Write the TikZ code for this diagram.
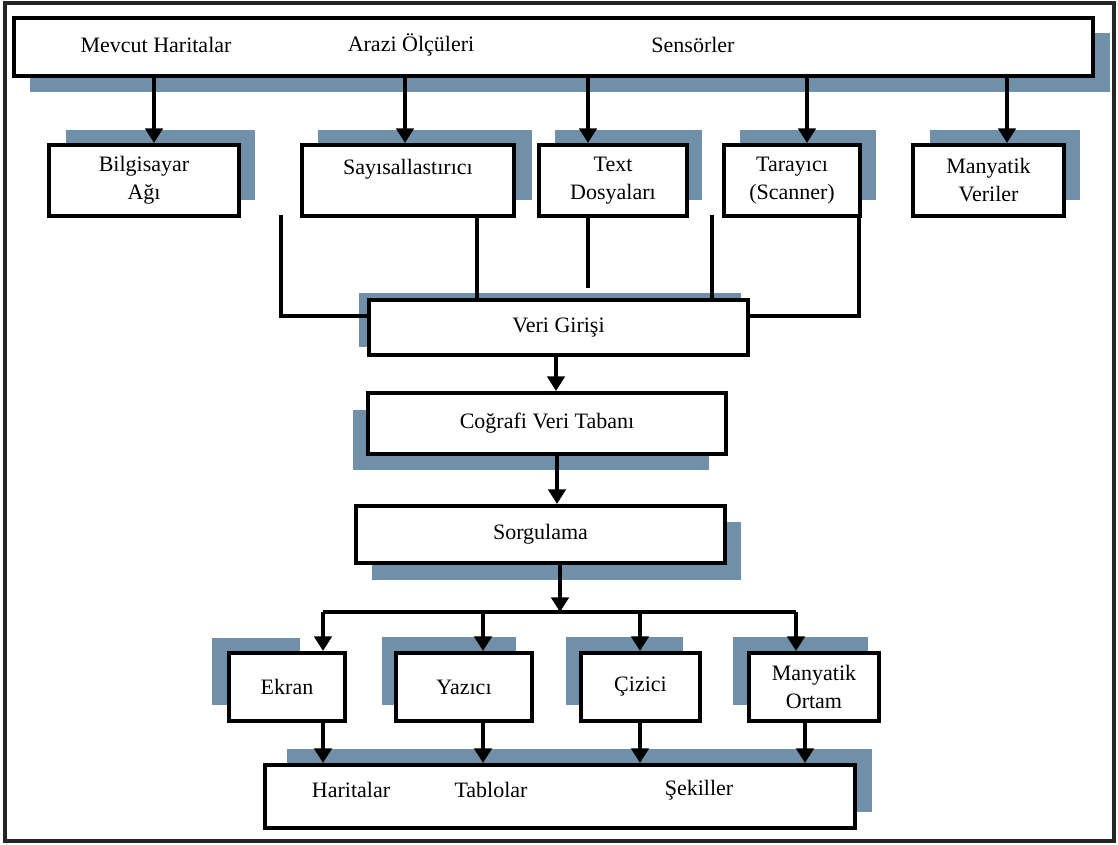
\documentclass[tikz,border=0pt]{standalone}
\usepackage{fontspec}
\setmainfont{Liberation Serif}
\usepackage{xcolor}
\usetikzlibrary{arrows.meta}

\definecolor{golgerengi}{RGB}{112,143,168}

\tikzset{
  kutu/.style={draw=black, line width=3pt, fill=white, inner sep=0pt, align=center, font=\fontsize{16.5}{21}\selectfont},
  yazi/.style={inner sep=0pt, font=\fontsize{16.5}{21}\selectfont},
  golge/.style={fill=golgerengi},
  ok/.style={line width=2.8pt, -{Triangle[width=13pt,length=11pt]}},
  hat/.style={line width=2.6pt}
}

\begin{document}
\begin{tikzpicture}[x=0.75pt,y=0.75pt,yscale=-1,xscale=1]
\useasboundingbox (0,0) rectangle (1118,845);
\draw[line width=2.8pt, black!85] (5,3) rectangle (1114,841);

% golgeler
\fill[golge] (30,33) rectangle (1110,92);
\fill[golge] (66,130) rectangle (255,200);
\fill[golge] (318,130) rectangle (532,200);
\fill[golge] (555,130) rectangle (702,200);
\fill[golge] (740,130) rectangle (876,200);
\fill[golge] (930,130) rectangle (1080,200);
\fill[golge] (359,293) rectangle (741,347);
\fill[golge] (353,410) rectangle (709,470);
\fill[golge] (372,522) rectangle (741,580);
\fill[golge] (212,638) rectangle (300,705);
\fill[golge] (382,637) rectangle (516,705);
\fill[golge] (566,637) rectangle (683,705);
\fill[golge] (733,637) rectangle (868,705);
\fill[golge] (287,749) rectangle (872,812);

% kutular
\node[kutu, minimum width=809.25pt, minimum height=43.5pt] (ust) at (553.5,47) {};
\node[yazi] (mevcut) at (156,45) {Mevcut Haritalar};
\node[yazi] (arazi) at (411,45) {Arazi Ölçüleri};
\node[yazi] (sensor) at (693,45) {Sensörler};

\node[kutu, minimum width=142.5pt, minimum height=53.25pt] (bil) at (144,180.5) {Bilgisayar\\Ağı};
\node[kutu, minimum width=159pt, minimum height=53.25pt] (say) at (408,180.5) {Sayısallastırıcı\\\mbox{}};
\node[kutu, minimum width=111pt, minimum height=53.25pt] (txt) at (613,180.5) {Text\\Dosyaları};
\node[kutu, minimum width=102pt, minimum height=53.25pt] (tar) at (792,180.5) {Tarayıcı\\(Scanner)};
\node[kutu, minimum width=113.25pt, minimum height=53.25pt] (manv) at (988.5,180.5) {Manyatik\\Veriler};

\node[kutu, minimum width=284.25pt, minimum height=41.25pt] (vg) at (558.5,327.5) {Veri Girişi};
\node[kutu, minimum width=268.5pt, minimum height=45.75pt] (cvt) at (547,423.5) {Coğrafi Veri Tabanı};
\node[kutu, minimum width=276.75pt, minimum height=42.75pt] (sor) at (540.5,534.5) {Sorgulama};

\node[kutu, minimum width=87pt, minimum height=51pt] (ekr) at (287,687) {Ekran};
\node[kutu, minimum width=102pt, minimum height=51pt] (yaz) at (464,687) {Yazıcı};
\node[kutu, minimum width=89.25pt, minimum height=51pt] (ciz) at (640.5,687) {Çizici};
\node[kutu, minimum width=97.5pt, minimum height=51pt] (mor) at (814,687) {Manyatik\\Ortam};

\node[kutu, minimum width=442.5pt, minimum height=47.25pt] (cikti) at (560,796.5) {};
\node[yazi] (harita) at (351,790) {Haritalar};
\node[yazi] (tablo) at (491,790) {Tablolar};
\node[yazi] (sekil) at (699,790) {Şekiller};

% baglantilar
\foreach \x/\n in {154/bil,405/say,588/txt,807/tar,1007/manv}
  \draw[ok] (ust.south -| \x,0) -- (\n.north -| \x,0);

\coordinate (solbas) at (281,215);
\coordinate (ortabas) at (712,215);
\coordinate (txtuc) at (588,288);
\draw[hat] (solbas) -- (solbas |- 0,316) -- (vg.west |- 0,316);
\draw[hat] (say.south -| 477,0) -- (vg.north -| 477,0);
\draw[hat] (txt.south -| txtuc) -- (txtuc);
\draw[hat] (ortabas) -- (vg.north -| ortabas);
\draw[hat] (tar.south -| 859,0) -- (859,316) -- (vg.east |- 0,316);

\draw[ok] (vg.south -| 556,0) -- (cvt.north -| 556,0);
\draw[ok] (cvt.south -| 557,0) -- (sor.north -| 557,0);

\coordinate (busL) at (323,612);
\coordinate (busR) at (796,612);
\draw[ok] (sor.south -| 560,0) -- (busL -| 560,0);
\draw[line width=2.8pt] (busL) -- (busR);
\foreach \x/\n in {323/ekr,483/yaz,640/ciz,796/mor}
  \draw[ok] (busL -| \x,0) -- (\n.north -| \x,0);
\foreach \x/\n in {323/ekr,483/yaz,640/ciz,805/mor}
  \draw[ok] (\n.south -| \x,0) -- (cikti.north -| \x,0);
\end{tikzpicture}
\end{document}
